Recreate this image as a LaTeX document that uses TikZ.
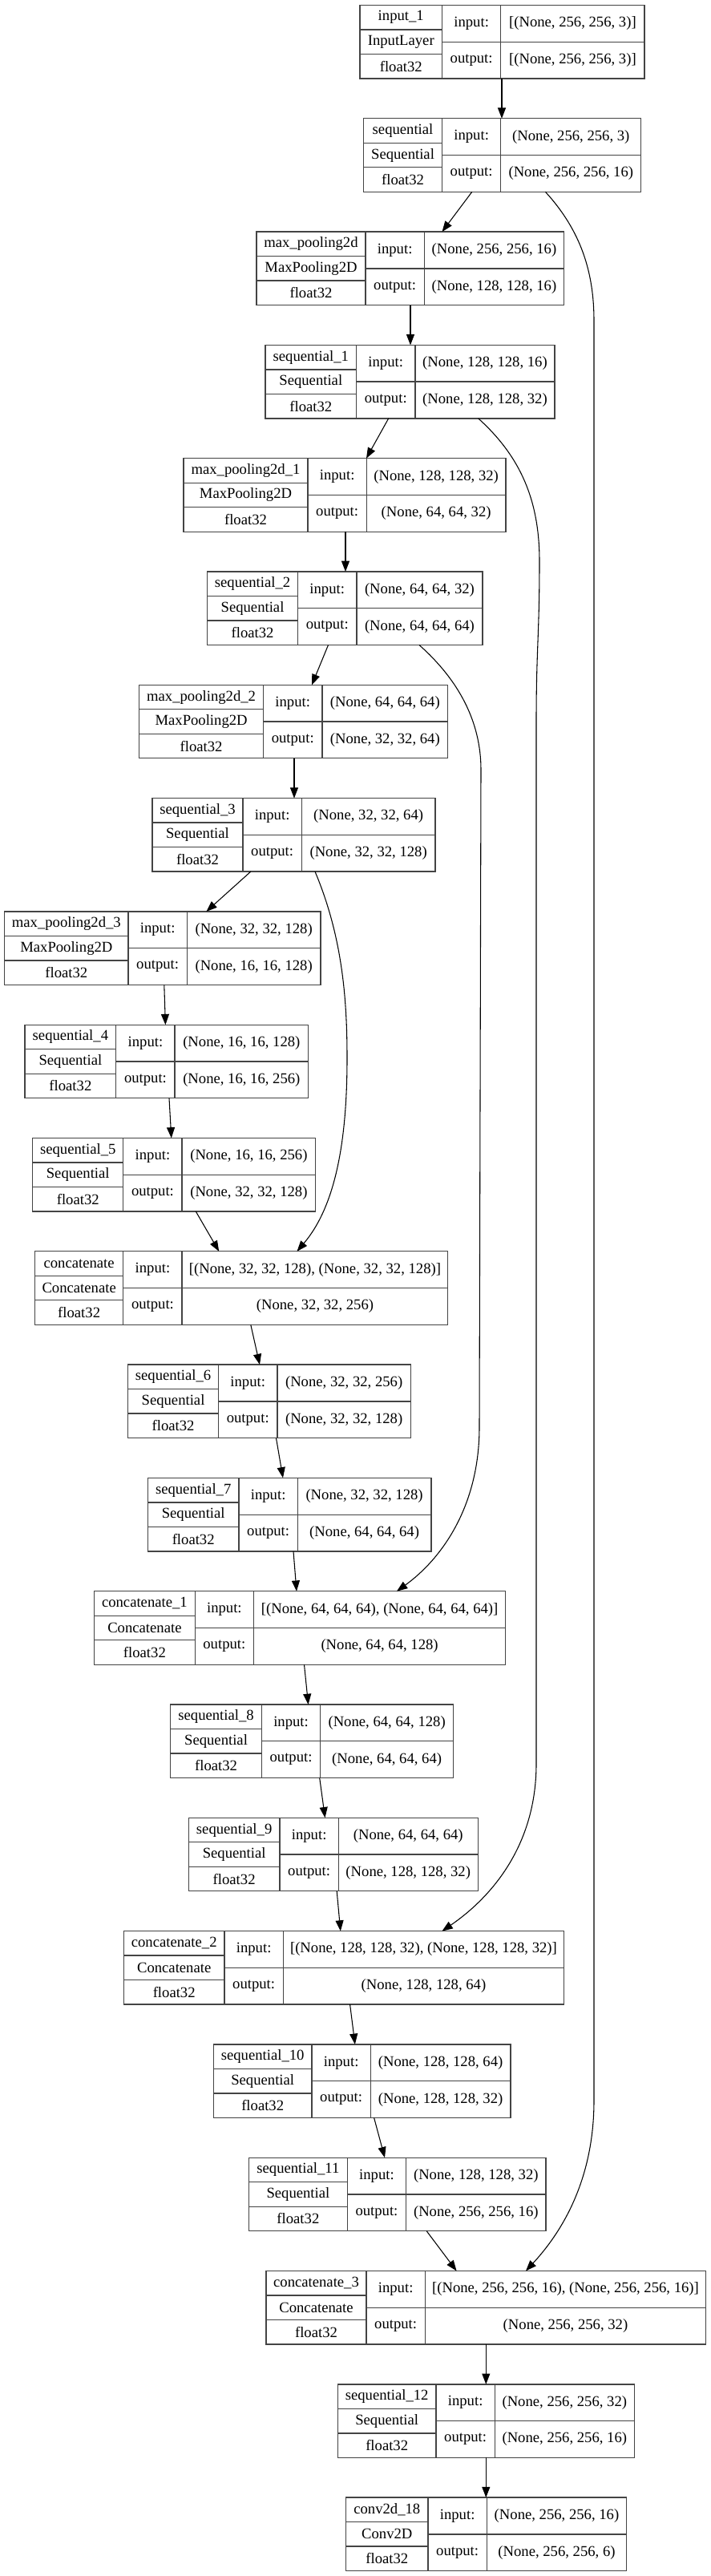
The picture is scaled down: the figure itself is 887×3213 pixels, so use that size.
\documentclass[tikz,border=0pt]{standalone}
\usepackage{fontspec}
\setmainfont{Liberation Serif}
\usetikzlibrary{arrows.meta}
\definecolor{boxgray}{HTML}{444444}
\tikzset{
  lbox/.style={draw=boxgray, line width=1pt, inner sep=0pt, outer sep=0pt, minimum height=68.625pt, fill=white},
  lline/.style={draw=boxgray, line width=1pt},
  ltext/.style={inner sep=0pt, font=\fontsize{14pt}{16pt}\selectfont},
  arr/.style={draw=black, line width=0.8pt, -{Triangle[length=10pt,width=7.5pt]}},
}
% #1 id, #2 left x, #3 rank, #4 left col width, #5 right col width, #6 name, #7 class, #8 in shape, #9 out shape
\newcommand{\klayer}[9]{%
  \pgfmathsetmacro\klyt{6.5+141.3*#3}%
  \pgfmathsetmacro\klw{(#4+73.3+#5)*0.75}%
  \pgfmathsetmacro\klxa{#2+#4}%
  \pgfmathsetmacro\klxb{#2+#4+73.3}%
  \pgfmathsetmacro\klxr{#2+#4+73.3+#5}%
  \pgfmathsetmacro\klxl{#2+#4/2}%
  \pgfmathsetmacro\klxm{#2+#4+36.65}%
  \pgfmathsetmacro\klxc{#2+#4+73.3+#5/2}%
  \node[lbox, minimum width=\klw pt, anchor=north west] (#1) at (#2,\klyt) {};
  \draw[lline] (\klxa,\klyt) -- (\klxa,\klyt+91.5);
  \draw[lline] (\klxb,\klyt) -- (\klxb,\klyt+91.5);
  \draw[lline] (#2,\klyt+30.5) -- (\klxa,\klyt+30.5);
  \draw[lline] (#2,\klyt+61) -- (\klxa,\klyt+61);
  \draw[lline] (\klxa,\klyt+45.75) -- (\klxr,\klyt+45.75);
  \node[ltext] (#1-name) at (\klxl,\klyt+15.25) {#6};
  \node[ltext] (#1-class) at (\klxl,\klyt+45.75) {#7};
  \node[ltext] (#1-dtype) at (\klxl,\klyt+76.25) {float32};
  \node[ltext] (#1-in) at (\klxm,\klyt+22.875) {input:};
  \node[ltext] (#1-out) at (\klxm,\klyt+68.625) {output:};
  \node[ltext] (#1-ishape) at (\klxc,\klyt+22.875) {#8};
  \node[ltext] (#1-oshape) at (\klxc,\klyt+68.625) {#9};
}
\begin{document}
\begin{tikzpicture}[x=0.75pt,y=-0.75pt]
\useasboundingbox[fill=white] (0,0) rectangle (887,3213);

\klayer{n0}{449}{0}{102.5}{179.2}{input\_1}{InputLayer}{[(None, 256, 256, 3)]}{[(None, 256, 256, 3)]}
\klayer{n1}{453.6}{1}{97.9}{175.0}{sequential}{Sequential}{(None, 256, 256, 3)}{(None, 256, 256, 16)}
\klayer{n2}{320}{2}{136}{174.3}{max\_pooling2d}{MaxPooling2D}{(None, 256, 256, 16)}{(None, 128, 128, 16)}
\klayer{n3}{331}{3}{113.6}{174.1}{sequential\_1}{Sequential}{(None, 128, 128, 16)}{(None, 128, 128, 32)}
\klayer{n4}{229}{4}{155}{173.7}{max\_pooling2d\_1}{MaxPooling2D}{(None, 128, 128, 32)}{(None, 64, 64, 32)}
\klayer{n5}{258.5}{5}{113.1}{157.1}{sequential\_2}{Sequential}{(None, 64, 64, 32)}{(None, 64, 64, 64)}
\klayer{n6}{173.6}{6}{155}{156.9}{max\_pooling2d\_2}{MaxPooling2D}{(None, 64, 64, 64)}{(None, 32, 32, 64)}
\klayer{n7}{190}{7}{113}{166.7}{sequential\_3}{Sequential}{(None, 32, 32, 64)}{(None, 32, 32, 128)}
\klayer{n8}{5.7}{8}{154.3}{166.7}{max\_pooling2d\_3}{MaxPooling2D}{(None, 32, 32, 128)}{(None, 16, 16, 128)}
\klayer{n9}{31}{9}{113.8}{166.5}{sequential\_4}{Sequential}{(None, 16, 16, 128)}{(None, 16, 16, 256)}
\klayer{n10}{40.7}{10}{113.1}{166.6}{sequential\_5}{Sequential}{(None, 16, 16, 256)}{(None, 32, 32, 128)}
\klayer{n11}{43.5}{11}{110.3}{331.7}{concatenate}{Concatenate}{[(None, 32, 32, 128), (None, 32, 32, 128)]}{(None, 32, 32, 256)}
\klayer{n12}{159.5}{12}{113.1}{166.5}{sequential\_6}{Sequential}{(None, 32, 32, 256)}{(None, 32, 32, 128)}
\klayer{n13}{184.4}{13}{113.6}{166.6}{sequential\_7}{Sequential}{(None, 32, 32, 128)}{(None, 64, 64, 64)}
\klayer{n14}{117.6}{14}{125.6}{314.2}{concatenate\_1}{Concatenate}{[(None, 64, 64, 64), (None, 64, 64, 64)]}{(None, 64, 64, 128)}
\klayer{n15}{212.7}{15}{113.7}{165.9}{sequential\_8}{Sequential}{(None, 64, 64, 128)}{(None, 64, 64, 64)}
\klayer{n16}{235.3}{16}{113.7}{173.9}{sequential\_9}{Sequential}{(None, 64, 64, 64)}{(None, 128, 128, 32)}
\klayer{n17}{154.4}{17}{125.6}{350.3}{concatenate\_2}{Concatenate}{[(None, 128, 128, 32), (None, 128, 128, 32)]}{(None, 128, 128, 64)}
\klayer{n18}{266.4}{18}{122.6}{174.6}{sequential\_10}{Sequential}{(None, 128, 128, 64)}{(None, 128, 128, 32)}
\klayer{n19}{310.5}{19}{122.8}{174.4}{sequential\_11}{Sequential}{(None, 128, 128, 32)}{(None, 256, 256, 16)}
\klayer{n20}{332}{20}{125}{350.4}{concatenate\_3}{Concatenate}{[(None, 256, 256, 16), (None, 256, 256, 16)]}{(None, 256, 256, 32)}
\klayer{n21}{421.4}{21}{122.6}{174}{sequential\_12}{Sequential}{(None, 256, 256, 32)}{(None, 256, 256, 16)}
\klayer{n22}{431.6}{22}{102.4}{174.4}{conv2d\_18}{Conv2D}{(None, 256, 256, 16)}{(None, 256, 256, 6)}

% chain edges
\draw[arr] (n0.south -| 626,0) -- (n1.north -| 626,0);
\draw[arr] (n1.south -| 588.8,0) -- (n2.north -| 551.5,0);
\draw[arr] (n2.south -| 512,0) -- (n3.north -| 512,0);
\draw[arr] (n3.south -| 484.7,0) -- (n4.north -| 457,0);
\draw[arr] (n4.south -| 431,0) -- (n5.north -| 431,0);
\draw[arr] (n5.south -| 409.5,0) -- (n6.north -| 389,0);
\draw[arr] (n6.south -| 367,0) -- (n7.north -| 367,0);
\draw[arr] (n7.south -| 312.8,0) -- (n8.north -| 257.4,0);
\draw[arr] (n8.south -| 204.8,0) -- (n9.north -| 206.4,0);
\draw[arr] (n9.south -| 211,0) -- (n10.north -| 213.8,0);
\draw[arr] (n10.south -| 244.3,0) -- (n11.north -| 273.2,0);
\draw[arr] (n11.south -| 312.8,0) -- (n12.north -| 324,0);
\draw[arr] (n12.south -| 344.5,0) -- (n13.north -| 353,0);
\draw[arr] (n13.south -| 366,0) -- (n14.north -| 370,0);
\draw[arr] (n14.south -| 379.5,0) -- (n15.north -| 384.6,0);
\draw[arr] (n15.south -| 398.7,0) -- (n16.north -| 405.5,0);
\draw[arr] (n16.south -| 420.2,0) -- (n17.north -| 424.8,0);
\draw[arr] (n17.south -| 436.6,0) -- (n18.north -| 442.9,0);
\draw[arr] (n18.south -| 466.6,0) -- (n19.north -| 480,0);
\draw[arr] (n19.south -| 532.2,0) -- (n20.north -| 569.6,0);
\draw[arr] (n20.south -| 606.3,0) -- (n21.north -| 606.3,0);
\draw[arr] (n21.south -| 606.3,0) -- (n22.north -| 606.3,0);

% skip connections
\draw[arr] (n1.south -| 680.4,0) .. controls (725,288) and (741,340) .. (741,400)
  -- (741,2620) .. controls (741,2720) and (700,2785) .. (n20.north -| 656,0);
\draw[arr] (n3.south -| 596.7,0) .. controls (650,570) and (673,625) .. (673,700)
  .. controls (673,790) and (669,810) .. (669,900)
  -- (669,2200) .. controls (669,2300) and (615,2365) .. (n17.north -| 551.5,0);
\draw[arr] (n5.south -| 523,0) .. controls (572,848) and (600,900) .. (600,960)
  -- (598,1780) .. controls (598,1880) and (550,1945) .. (n14.north -| 495,0);
\draw[arr] (n7.south -| 393,0) .. controls (428,1170) and (433,1250) .. (433,1320)
  .. controls (433,1425) and (418,1505) .. (n11.north -| 370.5,0);
\end{tikzpicture}
\end{document}
